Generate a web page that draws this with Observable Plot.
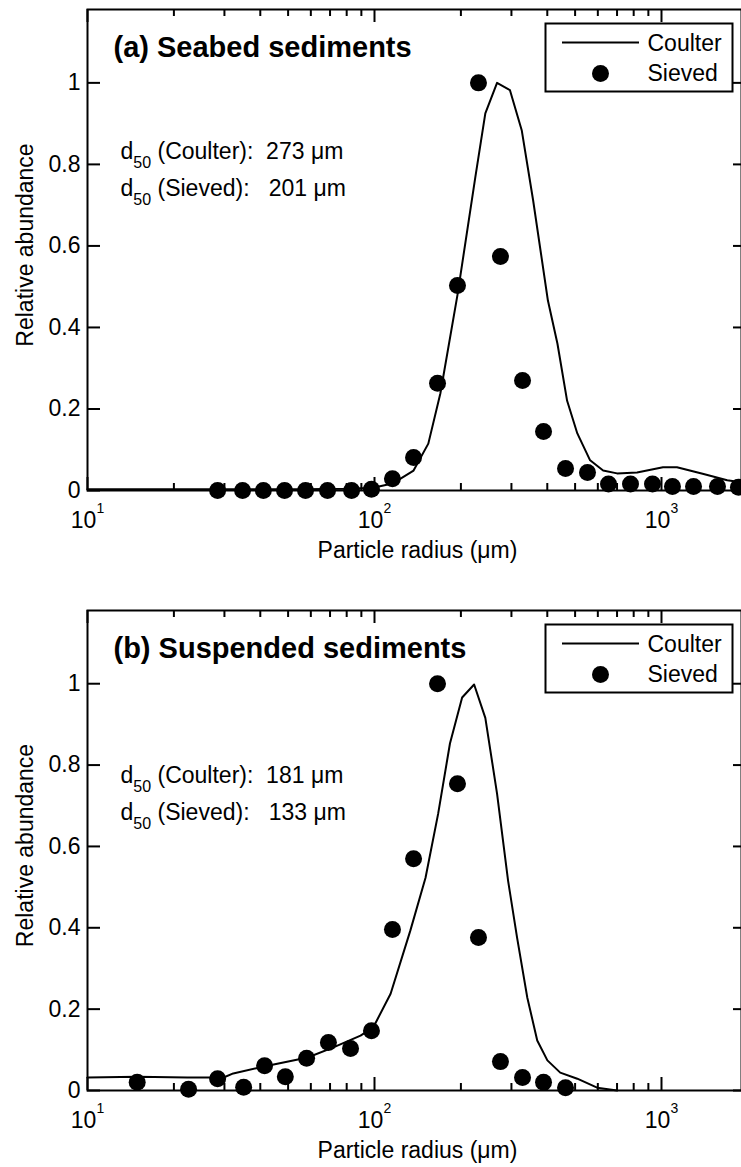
<!DOCTYPE html>
<html><head><meta charset="utf-8">
<script src="https://cdn.jsdelivr.net/npm/d3@7"></script>
<script src="https://cdn.jsdelivr.net/npm/@observablehq/plot@0.6"></script>
<style>
html,body{margin:0;padding:0;background:#fff;}
#chart svg{display:block;}
svg text{white-space:pre;}
</style></head><body><div id="chart"></div>
<script>
// ---- data ----
const panelTitles = ["(a) Seabed sediments", "(b) Suspended sediments"];
const d50Coulter = [273, 181];
const d50Sieved = [201, 133];
const legendLabels = ["Coulter", "Sieved"];
const xLabel = "Particle radius (μm)";
const yLabel = "Relative abundance";
const yTicks = [0, 0.2, 0.4, 0.6, 0.8, 1];
const xMajorTicks = [10, 100, 1000];
const xMinorTicks = [20, 30, 40, 50, 60, 70, 80, 90, 200, 300, 400, 500, 600, 700, 800, 900];
const xDomain = [10, 1900];
const yDomain = [0, 1.18];

// (a) seabed
const seabedCoulterR = [10, 24.8, 55.2, 82.4, 99.0, 115.5, 136.8, 154, 169.6, 194.6, 224.5, 243.3, 267.3, 296.5, 326, 357, 402, 434, 469, 509, 564, 626, 700, 822, 1012, 1132, 1391, 1694, 1894];
const seabedCoulterA = [0.003, 0.003, 0.003, 0.004, 0.007, 0.017, 0.049, 0.115, 0.238, 0.48, 0.768, 0.925, 1.0, 0.982, 0.883, 0.712, 0.466, 0.36, 0.22, 0.14, 0.074, 0.049, 0.042, 0.044, 0.057, 0.057, 0.041, 0.025, 0.02];
const seabedSievedR = [28.4, 34.7, 41.0, 48.6, 57.5, 68.6, 83.2, 97.6, 115.5, 136.8, 165.8, 194.6, 230.3, 274.7, 327.9, 388.1, 463.0, 552.3, 653.7, 779.8, 930.3, 1092, 1293, 1567, 1854];
const seabedSievedA = [0, 0, 0, 0, 0, 0, 0, 0.003, 0.029, 0.081, 0.263, 0.503, 1.0, 0.574, 0.27, 0.145, 0.054, 0.044, 0.016, 0.016, 0.016, 0.01, 0.01, 0.01, 0.008];

// (b) suspended
const suspCoulterR = [10, 14.9, 22.3, 29.8, 32.2, 42.4, 58.5, 71.9, 89.4, 99.0, 113.8, 133.3, 150.6, 166.6, 183.2, 202.0, 222.4, 243.3, 267.3, 292, 313.9, 340.8, 369.0, 400.3, 443.8, 508.8, 596.6, 700.3];
const suspCoulterA = [0.032, 0.034, 0.032, 0.032, 0.042, 0.061, 0.081, 0.106, 0.135, 0.155, 0.238, 0.393, 0.523, 0.68, 0.853, 0.966, 0.998, 0.916, 0.73, 0.516, 0.376, 0.228, 0.123, 0.074, 0.044, 0.029, 0.007, 0];
const suspSievedR = [14.9, 22.5, 28.4, 35.0, 41.4, 48.9, 58.0, 69.1, 82.5, 97.6, 115.5, 136.8, 165.8, 194.6, 230.3, 274.7, 327.9, 388.1, 463.0];
const suspSievedA = [0.02, 0.003, 0.029, 0.008, 0.061, 0.034, 0.079, 0.118, 0.103, 0.147, 0.396, 0.57, 1.0, 0.754, 0.376, 0.071, 0.032, 0.02, 0.007];

const NS = "http://www.w3.org/2000/svg";
function fixText(svg) {
  svg.querySelectorAll("text").forEach(t => {
    const s = t.textContent;
    let m = s.match(/^10\^(\d)$/);
    if (m) {
      t.textContent = "10";
      const ts = document.createElementNS(NS, "tspan");
      ts.setAttribute("dy", "-15");
      ts.setAttribute("font-size", "14");
      ts.textContent = m[1];
      t.appendChild(ts);
      return;
    }
    m = s.match(/^d50(.*)$/);
    if (m) {
      t.textContent = "d";
      const sub = document.createElementNS(NS, "tspan");
      sub.setAttribute("dy", "9");
      sub.setAttribute("font-size", "16");
      sub.textContent = "50";
      const rest = document.createElementNS(NS, "tspan");
      rest.setAttribute("dy", "-9");
      rest.textContent = m[1];
      t.appendChild(sub);
      t.appendChild(rest);
    }
  });
}

function panel(i, cR, cA, sR, sA, height, marginTop, marginBottom, noteDy) {
  const W = 741, mL = 87, mR = 0;
  const plotW = W - mL - mR, plotH = height - marginTop - marginBottom;
  const coulter = cR.map((r, k) => ({r, a: cA[k]}));
  const sieved = sR.map((r, k) => ({r, a: sA[k]}));
  const sw = 2;
  const svg = Plot.plot({
    width: W, height, marginLeft: mL, marginRight: mR, marginTop, marginBottom,
    style: {fontFamily: "'Liberation Sans', Arial, sans-serif", fontSize: "23px", color: "black", background: "white"},
    x: {type: "log", domain: xDomain},
    y: {domain: yDomain},
    marks: [
      Plot.frame({stroke: "black", strokeWidth: sw}),
      Plot.tickY(yTicks, {y: d => d, insetRight: plotW - 13, strokeWidth: sw}),
      Plot.tickY(yTicks, {y: d => d, insetLeft: plotW - 8, strokeWidth: sw}),
      Plot.tickX(xMajorTicks, {x: d => d, insetTop: plotH - 13, strokeWidth: sw}),
      Plot.tickX(xMinorTicks, {x: d => d, insetTop: plotH - 7, strokeWidth: sw}),
      Plot.tickX(xMajorTicks, {x: d => d, insetBottom: plotH - 13, strokeWidth: sw}),
      Plot.tickX(xMinorTicks, {x: d => d, insetBottom: plotH - 7, strokeWidth: sw}),
      Plot.axisY({ticks: yTicks, tickSize: 0, tickPadding: 7, tickFormat: d3.format("~g"), label: null}),
      Plot.axisX({ticks: xMajorTicks, tickSize: 0, tickPadding: 21, tickFormat: d => "10^" + Math.round(Math.log10(d)), label: null}),
      Plot.line(coulter, {x: "r", y: "a", stroke: "black", strokeWidth: sw}),
      Plot.dot(sieved, {x: "r", y: "a", r: 8.5, fill: "black"}),
      // title and annotations
      Plot.text([panelTitles[i]], {text: d => d, frameAnchor: "top-left", dx: 26, dy: 38, textAnchor: "start", lineAnchor: "middle", fontSize: 29, fontWeight: "bold"}),
      Plot.text([`d50 (Coulter):  ${d50Coulter[i]} μm`], {text: d => d, frameAnchor: "top-left", dx: 33, dy: noteDy, textAnchor: "start", lineAnchor: "middle"}),
      Plot.text([`d50 (Sieved):   ${d50Sieved[i]} μm`], {text: d => d, frameAnchor: "top-left", dx: 33, dy: noteDy + 37, textAnchor: "start", lineAnchor: "middle"}),
      // legend
      Plot.frame({insetLeft: 458, insetRight: 9, insetTop: 14, insetBottom: plotH - 14 - 68, fill: "white", stroke: "black", strokeWidth: sw}),
      Plot.ruleY([yDomain[1]], {dy: 33, insetLeft: 475, insetRight: 102, stroke: "black", strokeWidth: sw}),
      Plot.dot([legendLabels[1]], {frameAnchor: "top-left", dx: 513, dy: 64, r: 8.5, fill: "black"}),
      Plot.text([legendLabels[0]], {text: d => d, frameAnchor: "top-left", dx: 560, dy: 34, textAnchor: "start", lineAnchor: "middle"}),
      Plot.text([legendLabels[1]], {text: d => d, frameAnchor: "top-left", dx: 560, dy: 64, textAnchor: "start", lineAnchor: "middle"}),
      // axis titles
      Plot.text([xLabel], {text: d => d, frameAnchor: "bottom", dx: 3, dy: 60, textAnchor: "middle", lineAnchor: "middle"}),
      Plot.text([yLabel], {text: d => d, frameAnchor: "left", dx: -62, dy: -5, rotate: -90, textAnchor: "middle", lineAnchor: "middle"})
    ]
  });
  fixText(svg);
  return svg;
}

const root = document.getElementById("chart");
root.appendChild(panel(0, seabedCoulterR, seabedCoulterA, seabedSievedR, seabedSievedA, 600, 9, 110, 142));
root.appendChild(panel(1, suspCoulterR, suspCoulterA, suspSievedR, suspSievedA, 567, 10, 77, 165));
</script></body></html>
